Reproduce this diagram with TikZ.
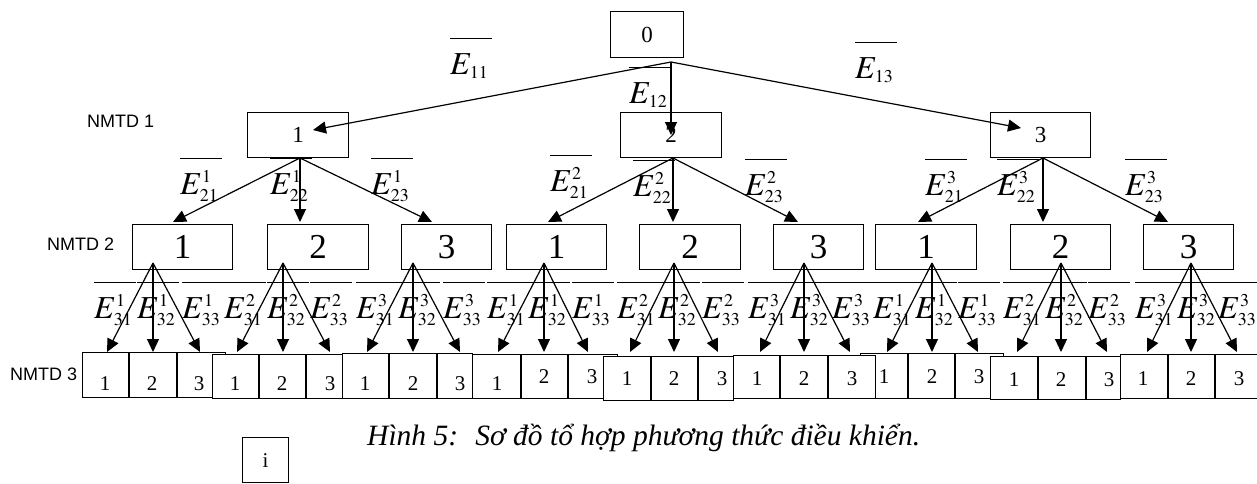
\documentclass[tikz,border=0pt]{standalone}
\usepackage{mathptmx}
\usepackage{fontspec}
\setmainfont{Liberation Serif}
\newfontfamily\arialf{Liberation Sans}
\usetikzlibrary{arrows.meta}
\DeclareMathSizes{32}{32}{18}{13}
\newdimen\barw
\newcommand\Eb[2]{\setbox0\hbox{\fontsize{32}{38}\selectfont$E^{#1}_{#2}$}\barw=\wd0\advance\barw by 4pt\rlap{\rule[35pt]{\barw}{0.9pt}}\box0}
\newcommand\Ebs[1]{\setbox0\hbox{\fontsize{32}{38}\selectfont$E_{#1}$}\barw=\wd0\advance\barw by 4pt\rlap{\rule[35pt]{\barw}{0.9pt}}\box0}
\newcommand\nmtdfont{\arialf\fontsize{18}{22}\selectfont}
\begin{document}
\begin{tikzpicture}[x=1pt,y=-1pt,
  box/.style={draw,line width=1.2pt,inner sep=0pt,anchor=north west},
  grp/.style={draw,fill=white,line width=1.2pt,inner sep=0pt,anchor=north west},
  arr/.style={line width=1.2pt,-{Triangle[length=13pt,width=12pt]}},
  elab/.style={anchor=base west,inner sep=0pt},
  lev/.style={anchor=base west,inner sep=0pt,font=\nmtdfont},
  dg/.style={inner sep=0pt,anchor=base,font=\fontsize{21}{25}\selectfont},
  l0/.style={box,font=\fontsize{23}{27}\selectfont},
  l2/.style={box,minimum width=100pt,minimum height=45pt,font=\fontsize{35}{40}\selectfont}
]
\useasboundingbox (0,0) rectangle (1257,483);

% level labels
\node[lev] (n1) at (87,127) {NMTD 1};
\node[lev] (n2) at (47,250) {NMTD 2};
\node[lev] (n3) at (10,380) {NMTD 3};

% root and level 1
\node[l0,minimum width=73pt,minimum height=46pt] (r) at (610,11) {0};
\node[l0,minimum width=101pt,minimum height=45pt] (a1) at (247,112) {1};
\node[l0,minimum width=101pt,minimum height=45pt] (a2) at (620,112) {2};
\node[l0,minimum width=100pt,minimum height=45pt] (a3) at (990,112) {3};

% level 2
\node[l2] (b1) at (132,224) {1};
\node[l2,minimum width=101pt] (b2) at (267,224) {2};
\node[l2,minimum width=90pt] (b3) at (401,224) {3};
\node[l2] (b4) at (506,224) {1};
\node[l2,minimum width=101pt] (b5) at (639,224) {2};
\node[l2,minimum width=90pt] (b6) at (773,224) {3};
\node[l2,minimum width=101pt] (b7) at (875,224) {1};
\node[l2] (b8) at (1010,224) {2};
\node[l2,minimum width=90pt] (b9) at (1143,224) {3};

% level 3 groups (draw order matters)
\node[grp,minimum width=143pt,minimum height=45pt] (g1) at (82,352) {};
\node[grp,minimum width=130pt,minimum height=44pt] (g2) at (212,354) {};
\node[grp,minimum width=130pt,minimum height=45pt] (g3) at (342,353) {};
\node[grp,minimum width=145pt,minimum height=44pt] (g4) at (472,354) {};
\node[grp,minimum width=130pt,minimum height=44pt] (g5) at (603,356) {};
\node[grp,minimum width=143pt,minimum height=45pt] (g7) at (860,353) {};
\node[grp,minimum width=142pt,minimum height=43pt] (g6) at (733,355) {};
\node[grp,minimum width=130pt,minimum height=43pt] (g8) at (990,356) {};
\node[grp,minimum width=142pt,minimum height=44pt] (g9) at (1120,354) {};
\foreach \x/\ya/\yb in {129/352/397,177/352/397,259/354/398,306/354/398,389/353/398,437/353/398,
  521/354/398,568/354/398,651/356/400,698/356/400,780/355/398,828/355/398,908/353/398,955/353/398,
  1038/356/399,1086/356/399,1168/354/398,1215/354/398}
  \draw[line width=1.2pt] (\x,\ya) -- (\x,\yb);

% cell digits
\foreach \x/\y/\d [count=\k] in {105/390/1,152/390/2,199/390/3,235/390/1,282/390/2,330/390/3,365/390/1,413/390/2,460/390/3,
  497/390/1,544/383/2,592/383/3,627/385/1,674/385/2,722/385/3,757/385/1,804/385/2,852/385/3,
  884/383/1,932/383/2,979/383/3,1014/386/1,1061/386/2,1109/386/3,1143/385/1,1191/385/2,1239/385/3}
  \node[dg] (d\k) at (\x,\y) {\d};

% level 1 labels
\node[elab] (e11) at (450,74) {\Ebs{11}};
\node[elab] (e12) at (629,103) {\Ebs{12}};
\node[elab] (e13) at (855,78) {\Ebs{13}};

% level 2 labels
\foreach \x/\y/\s/\t [count=\k] in {180/194/1/21,270/194/1/22,371/194/1/23,
  550/191/2/21,633/196/2/22,745/195/2/23,925/195/3/21,997/195/3/22,1125/195/3/23}
  \node[elab] (f\k) at (\x,\y) {\Eb{\s}{\t}};

% level 3 labels
\foreach \x [count=\k from 0] in {94,137,182,224,267,310,356,398,443,487,528,572,617,658,702,748,790,832,
  873,915,958,1003,1045,1088,1135,1177,1218} {
  \pgfmathtruncatemacro\s{int(mod(\k,9)/3)+1}
  \pgfmathtruncatemacro\t{mod(\k,3)+31}
  \node[elab] (h\k) at (\x,318) {\Eb{\s}{\t}};
}

% coordinates for connector ends
\coordinate (r0) at (671,62);
\coordinate (ta1) at (313,130);
\coordinate (ta2) at (671,135);
\coordinate (ta3) at (1021,128);
\draw[arr] (r0) -- (ta1);
\draw[arr] (r0) -- (ta2);
\draw[arr] (r0) -- (ta3);

\coordinate (sa1) at (300,158);
\coordinate (sa2) at (673,158);
\coordinate (sa3) at (1043,158);
\foreach \s/\x [count=\k] in {sa1/173,sa1/300,sa1/432,sa2/548,sa2/673,sa2/798,sa3/918,sa3/1043,sa3/1168} {
  \coordinate (tb\k) at (\x,222);
  \draw[arr] (\s) -- (tb\k);
}

\foreach \sx [count=\j] in {153,283,413,544,674,804,932,1061,1191}
  \coordinate (sb\j) at (\sx,263);
\foreach \j/\x [count=\k] in {1/107,1/153,1/200,2/237,2/283,2/330,3/367,3/413,3/460,
  4/498,4/544,4/588,5/630,5/674,5/718,6/760,6/804,6/850,
  7/887,7/932,7/978,8/1017,8/1061,8/1107,9/1147,9/1191,9/1237} {
  \coordinate (tc\k) at (\x,352);
  \draw[arr] (sb\j) -- (tc\k);
}

% caption and i box
\node[anchor=base west,inner sep=0pt,font=\fontsize{29.5}{34}\selectfont\itshape] (cap) at (367,445) {Hình 5:~ Sơ đồ tổ hợp phương thức điều khiển.};
\node[box,minimum width=46pt,minimum height=45pt,font=\fontsize{21}{25}\selectfont] (ib) at (242,437) {i};
\end{tikzpicture}
\end{document}
